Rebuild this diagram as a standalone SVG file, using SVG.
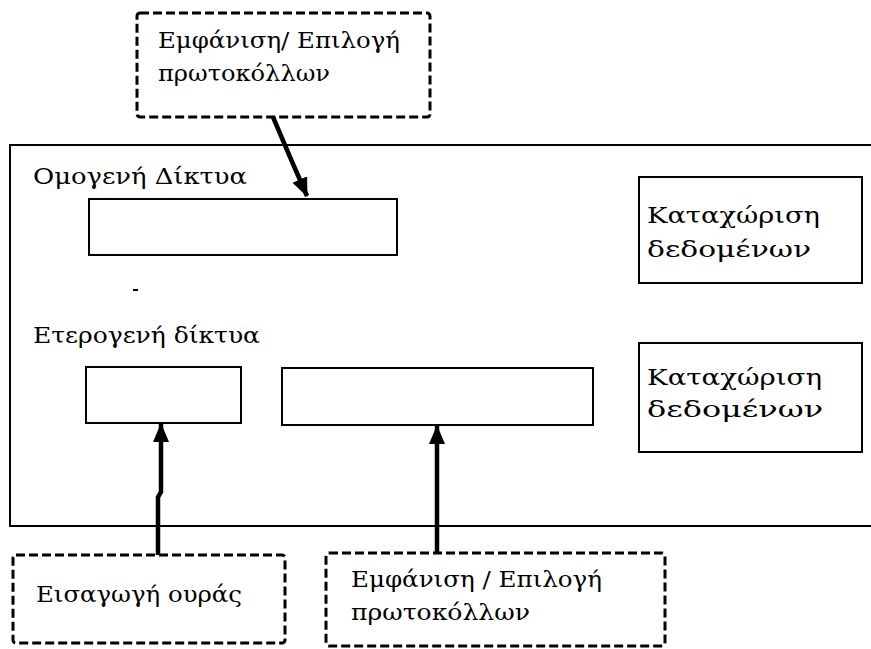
<svg xmlns="http://www.w3.org/2000/svg" width="871" height="649" viewBox="0 0 871 649">
  <defs>
    <style>
      .frame { fill: #fff; stroke: #000; stroke-width: 2; }
      .box { fill: #fff; stroke: #000; stroke-width: 2; }
      .dash { fill: #fff; stroke: #000; stroke-width: 3; stroke-dasharray: 9 4; }
      .lbl { font-family: "DejaVu Serif", "Liberation Serif", serif; font-size: 22px; fill: #000; }
      .wire { fill: none; stroke: #000; stroke-width: 4.5; }
    </style>
    <marker id="head" markerUnits="userSpaceOnUse" markerWidth="20" markerHeight="20" viewBox="0 0 20 20" refX="18" refY="10" orient="auto">
      <path d="M0,2 L19,10 L0,18 Z" fill="#000"/>
    </marker>
  </defs>

  <rect width="871" height="649" fill="#fff"/>

  <!-- outer panel, open to the right edge -->
  <g id="panel">
    <rect class="frame" x="10" y="145" width="880" height="381"/>
    <line x1="133" y1="290" x2="138" y2="290" stroke="#000" stroke-width="2"/>
  </g>

  <g id="homogeneous">
    <text class="lbl" x="33" y="184" textLength="214" lengthAdjust="spacingAndGlyphs">Ομογενή Δίκτυα</text>
    <rect class="box" x="89" y="199" width="308" height="56"/>
  </g>

  <g id="heterogeneous">
    <text class="lbl" x="33" y="343" textLength="227" lengthAdjust="spacingAndGlyphs">Ετερογενή δίκτυα</text>
  </g>

  <g id="queue-field">
    <rect class="box" x="86" y="367" width="155" height="56"/>
  </g>

  <g id="protocol-field">
    <rect class="box" x="282" y="368" width="311" height="57"/>
  </g>

  <g id="store-1">
    <rect class="box" x="639" y="177" width="223" height="106"/>
    <text class="lbl" x="647" y="223" textLength="173" lengthAdjust="spacingAndGlyphs">Καταχώριση</text>
    <text class="lbl" x="647" y="257" textLength="164" lengthAdjust="spacingAndGlyphs">δεδομένων</text>
  </g>

  <g id="store-2">
    <rect class="box" x="639" y="343" width="223" height="109"/>
    <text class="lbl" x="647" y="385" textLength="175" lengthAdjust="spacingAndGlyphs">Καταχώριση</text>
    <text class="lbl" x="647" y="417" textLength="176" lengthAdjust="spacingAndGlyphs">δεδομένων</text>
  </g>

  <g id="protocols-top">
    <rect class="dash" x="137" y="13" width="293" height="104" rx="3"/>
    <text class="lbl" x="158" y="48" textLength="242" lengthAdjust="spacingAndGlyphs">Εμφάνιση/ Επιλογή</text>
    <text class="lbl" x="158" y="81" textLength="172" lengthAdjust="spacingAndGlyphs">πρωτοκόλλων</text>
  </g>

  <g id="queue-input">
    <rect class="dash" x="13" y="555" width="272" height="88" rx="3"/>
    <text class="lbl" x="36" y="602" textLength="206" lengthAdjust="spacingAndGlyphs">Εισαγωγή ουράς</text>
  </g>

  <g id="protocols-bottom">
    <rect class="dash" x="326" y="553" width="339" height="93" rx="3"/>
    <text class="lbl" x="351" y="587" textLength="251" lengthAdjust="spacingAndGlyphs">Εμφάνιση / Επιλογή</text>
    <text class="lbl" x="351" y="620" textLength="179" lengthAdjust="spacingAndGlyphs">πρωτοκόλλων</text>
  </g>

  <g id="connectors">
    <polyline class="wire" points="273,117 290,157 307,196" marker-end="url(#head)"/>
    <polyline class="wire" points="158,555 158,497 161,492 161,424" marker-end="url(#head)"/>
    <polyline class="wire" points="437,553 437,426" marker-end="url(#head)"/>
  </g>
</svg>
